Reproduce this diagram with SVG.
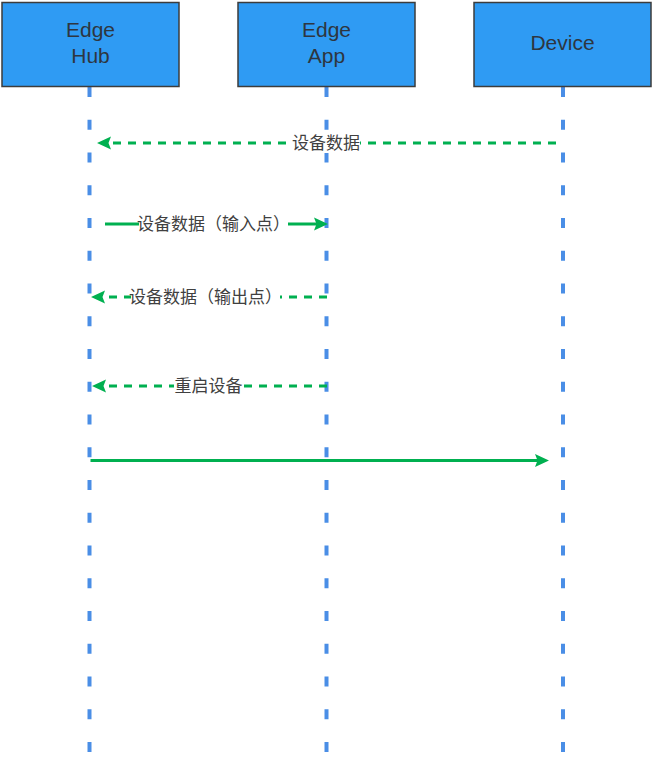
<svg xmlns="http://www.w3.org/2000/svg" width="653" height="773" viewBox="0 0 653 773">
<style>
.box{fill:#2f9bf3;stroke:#3c3c3c;stroke-width:1.5}
.bt{font-family:"Liberation Sans",Arial,sans-serif;font-size:21px;fill:#2e3640;text-anchor:middle}
.life{stroke:#4a8ee6;stroke-width:4;stroke-dasharray:10 22.75;fill:none}
.msg{stroke:#00b050;stroke-width:3;fill:none}
.dash{stroke-dasharray:8 7}
.lbl{font-family:"Noto Sans CJK SC","Noto Sans",sans-serif;font-size:17px;fill:#404040;text-anchor:middle}
.lb{fill:#ffffff}
</style>
<defs>
<marker id="ah" markerUnits="userSpaceOnUse" markerWidth="15" markerHeight="15" refX="4" refY="7.5" orient="auto">
<path d="M0,1 L14,7.5 L0,14 L2.5,7.5 z" fill="#00b050"/>
</marker>
</defs>
<rect width="653" height="773" fill="#ffffff"/>
<g id="lifelines">
<line class="life" x1="89.5" y1="87" x2="89.5" y2="753"/>
<line class="life" x1="326.5" y1="87" x2="326.5" y2="753"/>
<line class="life" x1="563" y1="87" x2="563" y2="753"/>
</g>
<g id="edge-hub">
<rect class="box" x="2" y="2.5" width="177" height="84"/>
<text class="bt" x="90.5" y="37">Edge</text>
<text class="bt" x="90.5" y="63">Hub</text>
</g>
<g id="edge-app">
<rect class="box" x="238" y="2.5" width="177" height="84"/>
<text class="bt" x="326.5" y="37">Edge</text>
<text class="bt" x="326.5" y="63">App</text>
</g>
<g id="device">
<rect class="box" x="474" y="2.5" width="177" height="84"/>
<text class="bt" x="562.5" y="50">Device</text>
</g>
<g id="connectors">
<line class="msg dash" x1="556" y1="143" x2="107" y2="143" marker-end="url(#ah)"/>
<rect class="lb" x="292" y="133" width="68" height="20"/>
<text class="lbl" x="326" y="149">设备数据</text>

<line class="msg" x1="105" y1="224" x2="318" y2="224" marker-end="url(#ah)"/>
<rect class="lb" x="139" y="214" width="149" height="20"/>
<text class="lbl" x="213.5" y="230">设备数据（输入点）</text>

<line class="msg dash" x1="327" y1="297" x2="101" y2="297" marker-end="url(#ah)"/>
<rect class="lb" x="131" y="287" width="149" height="20"/>
<text class="lbl" x="205.5" y="303">设备数据（输出点）</text>

<line class="msg dash" x1="327" y1="386" x2="102" y2="386" marker-end="url(#ah)"/>
<rect class="lb" x="174" y="376" width="69" height="20"/>
<text class="lbl" x="208.5" y="392">重启设备</text>

<line class="msg" x1="90.5" y1="460.5" x2="539" y2="460.5" marker-end="url(#ah)"/>
</g>
</svg>
